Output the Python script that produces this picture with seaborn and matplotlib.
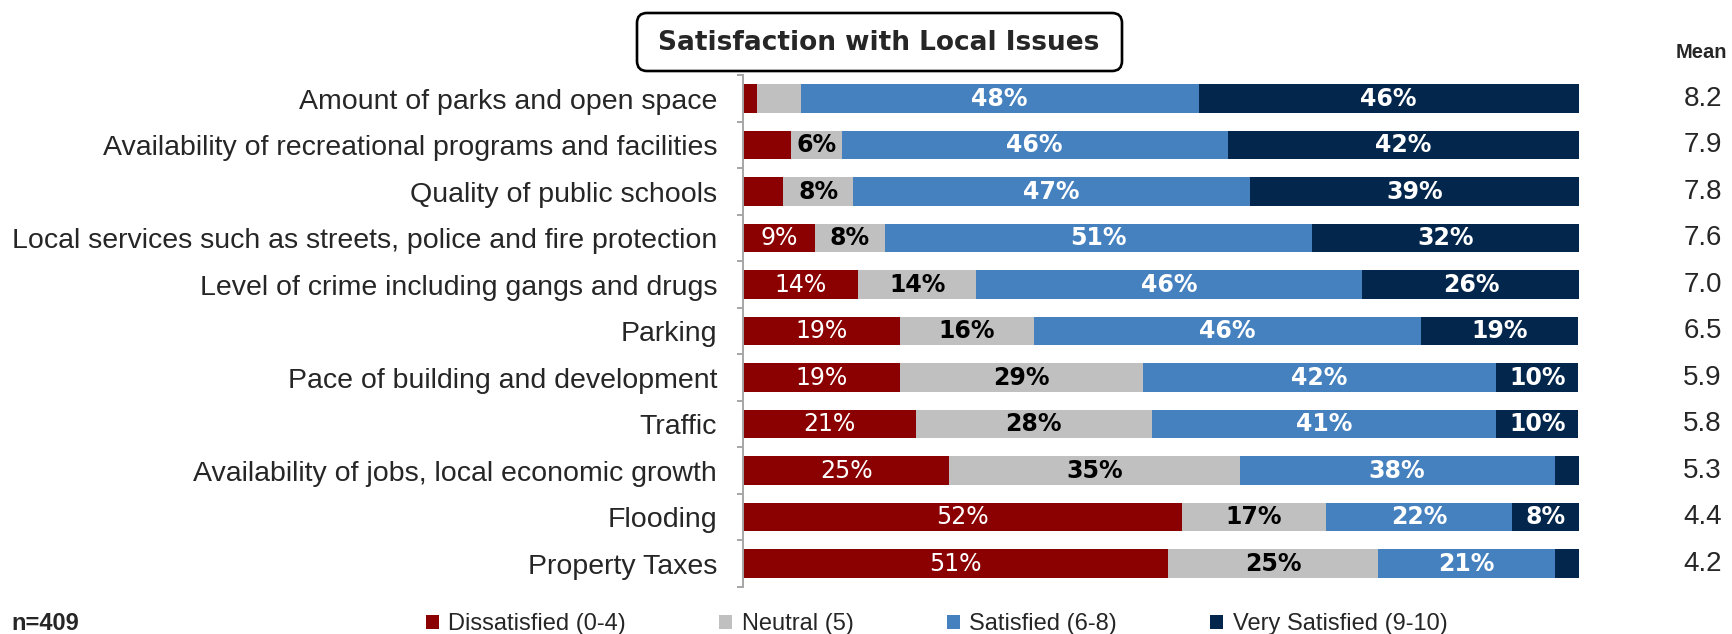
import numpy as np
import matplotlib
matplotlib.use("Agg")
import matplotlib.pyplot as plt
import seaborn as sns
from matplotlib.patches import FancyBboxPatch
from matplotlib.transforms import blended_transform_factory

# ── Data ─────────────────────────────────────────────────────────────────────
ISSUES = [
    "Amount of parks and open space",
    "Availability of recreational programs and facilities",
    "Quality of public schools",
    "Local services such as streets, police and fire protection",
    "Level of crime including gangs and drugs",
    "Parking",
    "Pace of building and development",
    "Traffic",
    "Availability of jobs, local economic growth",
    "Flooding",
    "Property Taxes",
]
DISSATISFIED = [1.7, 5.7, 4.8, 8.6, 13.8, 18.8, 18.8, 20.7, 24.7, 52.5, 50.8]
NEUTRAL      = [5.2, 6.1, 8.4, 8.4, 14.1, 16.0, 29.0, 28.2, 34.7, 17.2, 25.2]
SATISFIED    = [47.6, 46.2, 47.4, 51.1, 46.2, 46.3, 42.3, 41.2, 37.7, 22.3, 21.1]
VERY_SAT     = [45.5, 42.0, 39.4, 32.0, 26.0, 18.8, 9.8, 9.8, 2.9, 8.0, 2.9]
MEANS        = [8.2, 7.9, 7.8, 7.6, 7.0, 6.5, 5.9, 5.8, 5.3, 4.4, 4.2]
SERIES = ["Dissatisfied (0-4)", "Neutral (5)", "Satisfied (6-8)", "Very Satisfied (9-10)"]
COLORS = ["#8b0000", "#c0c0c0", "#4581bf", "#03264c"]
N_RESP = 409

TITLE = "Satisfaction with Local Issues"
LABEL_FONT = "Liberation Sans"

sns.set_style("white")
plt.rcParams["font.family"] = ["DejaVu Sans"]

fig = plt.figure(figsize=(17.33, 6.34), dpi=100)
ax = fig.add_axes([0.4287, 0.0745, 0.4824, 0.8068])

# ── Stacked bars: overlay cumulative totals, widest first ───────────────────
values = np.array([DISSATISFIED, NEUTRAL, SATISFIED, VERY_SAT])
cum = np.cumsum(values, axis=0)
for k in reversed(range(len(SERIES))):
    sns.barplot(x=cum[k], y=ISSUES, order=ISSUES, orient="h", color=COLORS[k],
                saturation=1, width=0.62, linewidth=0, label=SERIES[k], ax=ax)
handles, labels = ax.get_legend_handles_labels()
if ax.get_legend() is not None:
    ax.get_legend().remove()

# segment labels
label_style = [
    dict(color="white", fontweight="normal"),
    dict(color="black", fontweight="bold"),
    dict(color="white", fontweight="bold"),
    dict(color="white", fontweight="bold"),
]
for k in range(len(SERIES)):
    starts = cum[k] - values[k]
    for i, v in enumerate(values[k]):
        if v < 6:
            continue
        ax.text(starts[i] + v / 2, i, f"{v:.0f}%", ha="center", va="center",
                fontsize=17, **label_style[k])

ax.set_xlim(0, 100)
ax.set_ylim(len(ISSUES) - 0.5, -0.5)
ax.set_xlabel("")
ax.set_ylabel("")
ax.xaxis.set_visible(False)
for side in ["top", "right", "bottom"]:
    ax.spines[side].set_visible(False)
ax.spines["left"].set_color("#a6a6a6")
ax.spines["left"].set_linewidth(1.4)

ax.tick_params(axis="y", which="major", left=False, length=0, pad=18.5, labelsize=20.5)
for lbl in ax.get_yticklabels():
    lbl.set_fontfamily(LABEL_FONT)
ax.set_yticks(np.arange(-0.5, len(ISSUES) + 0.5, 1), minor=True)
ax.tick_params(axis="y", which="minor", left=True, direction="out",
               length=4, width=1.4, color="#a6a6a6")

# ── Mean column ──────────────────────────────────────────────────────────────
trans = blended_transform_factory(ax.transAxes, ax.transData)
ax.text(1.146, -1.0, "Mean", transform=trans, ha="center", va="center",
        fontsize=14.5, fontweight="bold", family=LABEL_FONT, clip_on=False)
for i, m in enumerate(MEANS):
    ax.text(1.148, i, f"{m:.1f}", transform=trans, ha="center", va="center",
            fontsize=20, family=LABEL_FONT, clip_on=False)

# ── Title box ────────────────────────────────────────────────────────────────
box = FancyBboxPatch((6.37, 5.63), 4.85, 0.58, boxstyle="round,pad=0,rounding_size=0.1",
                     transform=fig.dpi_scale_trans, facecolor="white",
                     edgecolor="black", linewidth=1.9)
fig.patches.append(box)
fig.text(879 / 1733, 1 - 43 / 634, TITLE, ha="center", va="center",
         fontsize=19, fontweight="bold")

# ── Legend and base note ─────────────────────────────────────────────────────
order = [labels.index(s) for s in SERIES]
fig.legend([handles[j] for j in order], [labels[j] for j in order],
           loc="center left", bbox_to_anchor=(426 / 1733, 1 - 624 / 634),
           ncol=4, frameon=False, borderpad=0, borderaxespad=0,
           handlelength=0.55, handleheight=0.55, handletextpad=0.4,
           columnspacing=3.95, prop={"family": LABEL_FONT, "size": 17})

fig.text(11 / 1733, 1 - 624 / 634, f"n={N_RESP}", ha="left", va="center",
         fontsize=17, fontweight="bold", family=LABEL_FONT)

fig.savefig("out.png", dpi=100)
